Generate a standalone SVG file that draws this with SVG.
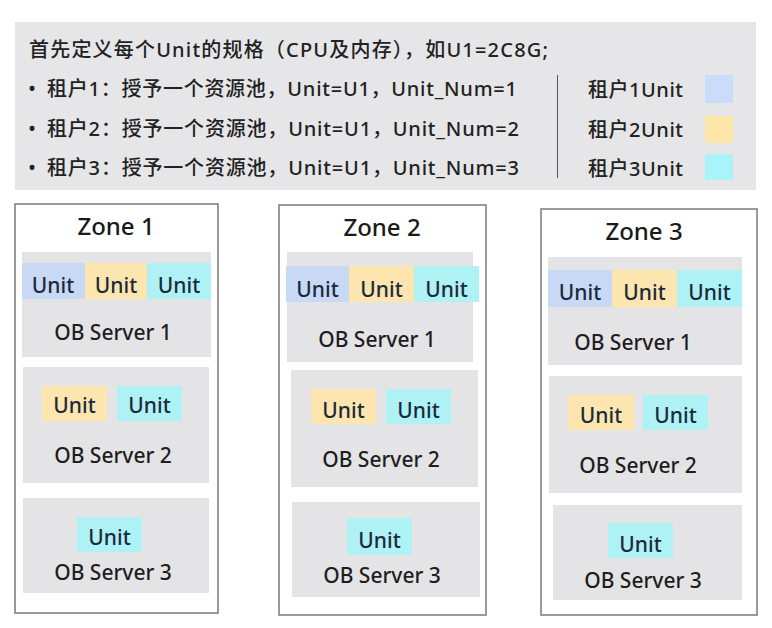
<svg xmlns="http://www.w3.org/2000/svg" width="772" height="628" viewBox="0 0 772 628">
<style>
text{font-family:"Noto Sans","Noto Sans CJK SC",sans-serif;fill:#222;font-weight:500;}
.hd{font-size:20px;}
.ttl{font-size:24px;text-anchor:middle;fill:#1a1a1a;}
.lbl{font-size:21px;text-anchor:middle;fill:#1e1e1e;}
.u{font-size:21px;text-anchor:middle;fill:#1b2a3a;}
.zone{fill:#ffffff;stroke:#7a7a7a;stroke-width:1.5;}
.srv{fill:#e4e4e6;}
.b{fill:#c8d9f6;}
.y{fill:#fde5b0;}
.c{fill:#aef2f5;}
</style>
<rect width="772" height="628" fill="#ffffff"/>
<g id="header">
<rect x="15" y="22" width="741" height="168" fill="#e6e6e8"/>
<text class="hd" x="29" y="57" textLength="519" lengthAdjust="spacing">首先定义每个Unit的规格（CPU及内存），如U1=2C8G;</text>
<text class="hd" x="32" y="96" text-anchor="middle">•</text>
<text class="hd" x="47" y="96" textLength="470" lengthAdjust="spacing">租户1：授予一个资源池，Unit=U1，Unit_Num=1</text>
<text class="hd" x="32" y="136" text-anchor="middle">•</text>
<text class="hd" x="47" y="136" textLength="472" lengthAdjust="spacing">租户2：授予一个资源池，Unit=U1，Unit_Num=2</text>
<text class="hd" x="32" y="175" text-anchor="middle">•</text>
<text class="hd" x="47" y="175" textLength="472" lengthAdjust="spacing">租户3：授予一个资源池，Unit=U1，Unit_Num=3</text>
<line x1="557.5" y1="75" x2="557.5" y2="178" stroke="#555" stroke-width="1"/>
<text class="hd" x="588" y="97" textLength="95" lengthAdjust="spacing">租户1Unit</text>
<text class="hd" x="588" y="137" textLength="95" lengthAdjust="spacing">租户2Unit</text>
<text class="hd" x="588" y="176" textLength="95" lengthAdjust="spacing">租户3Unit</text>
<rect x="705" y="75" width="28" height="28" fill="#c9dcfb"/>
<rect x="705" y="116" width="28" height="27" fill="#fee5a8"/>
<rect x="705" y="154" width="28" height="26" fill="#a8f4f8"/>
</g>
<g id="zone1">
<rect class="zone" x="15" y="204" width="203" height="409"/>
<text class="ttl" x="116" y="235">Zone 1</text>
<g id="z1s1">
<rect class="srv" x="22" y="252" width="189" height="105"/>
<rect class="b" x="22" y="263" width="63" height="36"/>
<rect class="y" x="85" y="263" width="62" height="36"/>
<rect class="c" x="147" y="263" width="64" height="36"/>
<text class="u" x="53" y="293">Unit</text>
<text class="u" x="116" y="293">Unit</text>
<text class="u" x="179" y="293">Unit</text>
<text class="lbl" x="113" y="340">OB Server 1</text>
</g>
<g id="z1s2">
<rect class="srv" x="23" y="367" width="186" height="116"/>
<rect class="y" x="42" y="386" width="65" height="35"/>
<rect class="c" x="117" y="386" width="65" height="35"/>
<text class="u" x="74.5" y="413">Unit</text>
<text class="u" x="149.5" y="413">Unit</text>
<text class="lbl" x="113" y="463">OB Server 2</text>
</g>
<g id="z1s3">
<rect class="srv" x="23" y="498" width="186" height="95"/>
<rect class="c" x="77" y="517" width="65" height="35"/>
<text class="u" x="109.5" y="545">Unit</text>
<text class="lbl" x="113" y="580">OB Server 3</text>
</g>
</g>
<g id="zone2">
<rect class="zone" x="279" y="205" width="207" height="410"/>
<text class="ttl" x="382" y="236">Zone 2</text>
<g id="z2s1">
<rect class="srv" x="287" y="252" width="186" height="110"/>
<rect class="b" x="286" y="266" width="63" height="36"/>
<rect class="y" x="349" y="266" width="65" height="36"/>
<rect class="c" x="414" y="266" width="65" height="36"/>
<text class="u" x="317.5" y="297">Unit</text>
<text class="u" x="381.5" y="297">Unit</text>
<text class="u" x="446.5" y="297">Unit</text>
<text class="lbl" x="377" y="347">OB Server 1</text>
</g>
<g id="z2s2">
<rect class="srv" x="291" y="370" width="187" height="117"/>
<rect class="y" x="311" y="389" width="65" height="35"/>
<rect class="c" x="386" y="389" width="65" height="35"/>
<text class="u" x="343.5" y="418">Unit</text>
<text class="u" x="418.5" y="418">Unit</text>
<text class="lbl" x="381" y="467">OB Server 2</text>
</g>
<g id="z2s3">
<rect class="srv" x="292" y="502" width="188" height="95"/>
<rect class="c" x="347" y="518" width="65" height="37"/>
<text class="u" x="379.5" y="548">Unit</text>
<text class="lbl" x="382" y="583">OB Server 3</text>
</g>
</g>
<g id="zone3">
<rect class="zone" x="541" y="209" width="216" height="406"/>
<text class="ttl" x="644" y="240">Zone 3</text>
<g id="z3s1">
<rect class="srv" x="548" y="257" width="194" height="108"/>
<rect class="b" x="548" y="270" width="64" height="37"/>
<rect class="y" x="612" y="270" width="65" height="37"/>
<rect class="c" x="677" y="270" width="65" height="37"/>
<text class="u" x="580" y="300">Unit</text>
<text class="u" x="644.5" y="300">Unit</text>
<text class="u" x="709.5" y="300">Unit</text>
<text class="lbl" x="633" y="350">OB Server 1</text>
</g>
<g id="z3s2">
<rect class="srv" x="549" y="376" width="193" height="117"/>
<rect class="y" x="568" y="395" width="66" height="35"/>
<rect class="c" x="643" y="395" width="65" height="35"/>
<text class="u" x="601" y="423">Unit</text>
<text class="u" x="675.5" y="423">Unit</text>
<text class="lbl" x="638" y="473">OB Server 2</text>
</g>
<g id="z3s3">
<rect class="srv" x="553" y="505" width="189" height="95"/>
<rect class="c" x="608" y="523" width="65" height="35"/>
<text class="u" x="640.5" y="552">Unit</text>
<text class="lbl" x="643" y="588">OB Server 3</text>
</g>
</g>
<g id="connectors"/>
</svg>
